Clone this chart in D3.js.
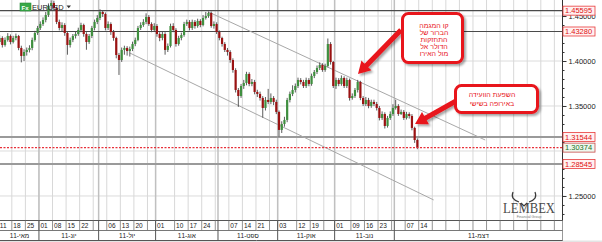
<!DOCTYPE html>
<html>
<head>
<meta charset="utf-8">
<script src="https://cdn.jsdelivr.net/npm/d3@7"></script>
<style>
body { margin: 0; background: #fff; overflow: hidden; }
svg { display: block; font-family: "Liberation Sans", "DejaVu Sans", sans-serif; }
</style>
</head>
<body>
<svg width="602" height="242"></svg>
<script>
// EUR/USD daily candles, 11 May 2011 - 14 Dec 2011
const opens = [
  1.4245,1.4211,1.4256,1.4178,1.4234,1.4278,1.4211,1.4256,1.4278,1.4145,
  1.4056,1.4100,1.4123,1.4145,1.4234,1.4311,1.4367,1.4411,1.4456,1.4511,
  1.4611,1.4645,1.4589,1.4434,1.4367,1.4400,1.4311,1.4178,1.4234,1.4278,
  1.4300,1.4345,1.4400,1.4300,1.4211,1.4278,1.4367,1.4434,1.4478,1.4545,
  1.4522,1.4367,1.4411,1.4322,1.4256,1.4067,1.4011,1.4123,1.4145,1.4111,
  1.4134,1.4189,1.4234,1.4367,1.4400,1.4434,1.4489,1.4411,1.4345,1.4389,
  1.4300,1.4256,1.4300,1.4123,1.4167,1.4389,1.4345,1.4189,1.4256,1.4289,
  1.4411,1.4434,1.4367,1.4434,1.4389,1.4445,1.4400,1.4478,1.4500,1.4534,
  1.4389,1.4411,1.4322,1.4256,1.4189,1.4123,1.4100,1.4011,1.3900,1.3678,
  1.3611,1.3722,1.3756,1.3856,1.3745,1.3767,1.3656,1.3634,1.3589,1.3478,
  1.3567,1.3545,1.3589,1.3545,1.3434,1.3234,1.3300,1.3345,1.3567,1.3634,
  1.3678,1.3722,1.3789,1.3767,1.3722,1.3789,1.3745,1.3834,1.3878,1.3923,
  1.3956,1.3900,1.3945,1.4189,1.3989,1.3722,1.3789,1.3745,1.3811,1.3722,
  1.3789,1.3589,1.3611,1.3678,1.3767,1.3589,1.3522,1.3567,1.3500,1.3545,
  1.3522,1.3478,1.3367,1.3411,1.3278,1.3367,1.3411,1.3478,1.3500,1.3411,
  1.3434,1.3367,1.3411,1.3389,1.3256,1.3122
];
const highs = [
  1.4270,1.4290,1.4275,1.4262,1.4310,1.4295,1.4280,1.4305,1.4290,1.4170,
  1.4130,1.4150,1.4175,1.4260,1.4335,1.4390,1.4440,1.4485,1.4545,1.4640,
  1.4675,1.4670,1.4605,1.4460,1.4430,1.4420,1.4330,1.4260,1.4300,1.4330,
  1.4370,1.4425,1.4415,1.4320,1.4300,1.4390,1.4460,1.4510,1.4575,1.4565,
  1.4540,1.4440,1.4430,1.4345,1.4270,1.4090,1.4150,1.4170,1.4165,1.4160,
  1.4215,1.4260,1.4390,1.4430,1.4465,1.4530,1.4510,1.4430,1.4420,1.4410,
  1.4320,1.4325,1.4320,1.4195,1.4415,1.4420,1.4365,1.4280,1.4315,1.4435,
  1.4460,1.4455,1.4460,1.4455,1.4470,1.4465,1.4510,1.4545,1.4550,1.4550,
  1.4440,1.4430,1.4340,1.4270,1.4210,1.4145,1.4120,1.4030,1.3920,1.3700,
  1.3745,1.3790,1.3880,1.3875,1.3800,1.3790,1.3680,1.3660,1.3610,1.3600,
  1.3690,1.3640,1.3610,1.3570,1.3450,1.3330,1.3380,1.3590,1.3660,1.3730,
  1.3750,1.3815,1.3810,1.3790,1.3815,1.3810,1.3860,1.3900,1.3950,1.3985,
  1.3975,1.3970,1.4250,1.4210,1.4000,1.3815,1.3810,1.3840,1.3830,1.3815,
  1.3805,1.3640,1.3700,1.3790,1.3780,1.3610,1.3600,1.3590,1.3570,1.3570,
  1.3545,1.3500,1.3440,1.3430,1.3390,1.3440,1.3520,1.3570,1.3520,1.3460,
  1.3455,1.3435,1.3430,1.3410,1.3270,1.3140
];
const lows = [
  1.4180,1.4190,1.4150,1.4160,1.4215,1.4185,1.4195,1.4230,1.4120,1.3985,
  1.4000,1.4060,1.4095,1.4120,1.4215,1.4290,1.4345,1.4390,1.4430,1.4490,
  1.4580,1.4560,1.4410,1.4340,1.4330,1.4280,1.4070,1.4150,1.4210,1.4250,
  1.4280,1.4320,1.4270,1.4125,1.4190,1.4255,1.4340,1.4410,1.4455,1.4490,
  1.4340,1.4345,1.4290,1.4225,1.4030,1.3845,1.3990,1.4070,1.4060,1.4050,
  1.4110,1.4165,1.4220,1.4345,1.4380,1.4410,1.4390,1.4320,1.4325,1.4270,
  1.4220,1.4230,1.4070,1.4100,1.4150,1.4320,1.4160,1.4170,1.4230,1.4270,
  1.4390,1.4340,1.4345,1.4360,1.4370,1.4375,1.4385,1.4460,1.4480,1.4370,
  1.4360,1.4300,1.4230,1.4160,1.4100,1.4060,1.3980,1.3870,1.3650,1.3490,
  1.3590,1.3690,1.3730,1.3720,1.3720,1.3630,1.3600,1.3560,1.3370,1.3450,
  1.3520,1.3520,1.3510,1.3410,1.3160,1.3200,1.3270,1.3320,1.3540,1.3610,
  1.3650,1.3700,1.3740,1.3700,1.3700,1.3720,1.3725,1.3810,1.3855,1.3900,
  1.3880,1.3880,1.3930,1.3960,1.3700,1.3690,1.3720,1.3725,1.3700,1.3700,
  1.3560,1.3570,1.3590,1.3650,1.3565,1.3500,1.3500,1.3475,1.3480,1.3500,
  1.3450,1.3340,1.3345,1.3250,1.3260,1.3345,1.3390,1.3460,1.3390,1.3400,
  1.3345,1.3350,1.3360,1.3230,1.3090,1.3020
];
const closes = [
  1.4211,1.4256,1.4178,1.4234,1.4278,1.4211,1.4256,1.4278,1.4145,1.4056,
  1.4100,1.4123,1.4145,1.4234,1.4311,1.4367,1.4411,1.4456,1.4511,1.4611,
  1.4645,1.4589,1.4434,1.4367,1.4400,1.4311,1.4178,1.4234,1.4278,1.4300,
  1.4345,1.4400,1.4300,1.4211,1.4278,1.4367,1.4434,1.4478,1.4545,1.4522,
  1.4367,1.4411,1.4322,1.4256,1.4067,1.4011,1.4123,1.4145,1.4111,1.4134,
  1.4189,1.4234,1.4367,1.4400,1.4434,1.4489,1.4411,1.4345,1.4389,1.4300,
  1.4256,1.4300,1.4123,1.4167,1.4389,1.4345,1.4189,1.4256,1.4289,1.4411,
  1.4434,1.4367,1.4434,1.4389,1.4445,1.4400,1.4478,1.4500,1.4534,1.4389,
  1.4411,1.4322,1.4256,1.4189,1.4123,1.4100,1.4011,1.3900,1.3678,1.3611,
  1.3722,1.3756,1.3856,1.3745,1.3767,1.3656,1.3634,1.3589,1.3478,1.3567,
  1.3545,1.3589,1.3545,1.3434,1.3234,1.3300,1.3345,1.3567,1.3634,1.3678,
  1.3722,1.3789,1.3767,1.3722,1.3789,1.3745,1.3834,1.3878,1.3923,1.3956,
  1.3900,1.3945,1.4189,1.3989,1.3722,1.3789,1.3745,1.3811,1.3722,1.3789,
  1.3589,1.3611,1.3678,1.3767,1.3589,1.3522,1.3567,1.3500,1.3545,1.3522,
  1.3478,1.3367,1.3411,1.3278,1.3367,1.3411,1.3478,1.3500,1.3411,1.3434,
  1.3367,1.3411,1.3389,1.3256,1.3122,1.3037
];

const firstDay = "2011-05-11", lastDay = "2011-12-14", axisEnd = "2012-02-28";

// support / resistance levels and current quote
const levels = [1.45595, 1.43280, 1.31544, 1.28545];
const lastQuote = 1.30374;
const priceTicks = [1.25, 1.30, 1.35, 1.40, 1.45];

// trend channel (date, price)
const trendUpper = [["2011-08-29", 1.4545], ["2012-01-18", 1.3122]];
const trendLower = [["2011-07-19", 1.4089], ["2011-12-22", 1.2456]];

// bottom axis: weekly cells and month cells
const weekCells = ["2011-05-11","2011-05-18","2011-05-25","2011-06-01","2011-06-08","2011-06-15","2011-06-22",
  "2011-06-29","2011-07-06","2011-07-13","2011-07-20","2011-07-27","2011-08-01","2011-08-10","2011-08-17",
  "2011-08-24","2011-08-31","2011-09-07","2011-09-14","2011-09-21","2011-09-28","2011-10-03","2011-10-12",
  "2011-10-19","2011-10-26","2011-11-01","2011-11-09","2011-11-16","2011-11-23","2011-11-30","2011-12-07",
  "2011-12-14","2011-12-21","2011-12-28","2012-01-04","2012-01-11","2012-01-18","2012-01-25","2012-02-01",
  "2012-02-08","2012-02-15","2012-02-22"];
const unlabeledCells = ["2011-06-29","2011-07-27","2011-08-31","2011-09-28","2011-10-26","2011-11-30"];
const monthStarts = ["2011-05-11","2011-06-01","2011-07-01","2011-08-01","2011-09-01","2011-10-03","2011-11-01","2011-12-01"];
const monthLabels = ["11-מאי","11-יונ","11-יול","11-אוג","11-ספט","11-אוק","11-נוב","11-דצמ"];

const note1 = ["קו המגמה", "הברור של", "התחזקות", "הדולר אל", "מול האירו"];
const note2 = ["השפעת הוועידה", "באירופה בשישי"];

// ---------- layout ----------
const W = 602, H = 242;
const plotRight = 562.5, plotBottom = 220;
const fmt = d3.utcFormat("%Y-%m-%d"), parse = d3.utcParse("%Y-%m-%d");
const weekday = d => d.getUTCDay() % 6 !== 0;

const slots = d3.utcDays(parse(firstDay), parse(axisEnd)).filter(weekday).map(fmt);
const tradingDays = d3.utcDays(parse(firstDay), d3.utcDay.offset(parse(lastDay), 1)).filter(weekday).map(fmt);

const x = d3.scaleBand().domain(slots).range([-4.45, plotRight]);
const step = x.step();
const cx = d => x(d) + step / 2;
const edge = d => x(d) + step;
const y = d3.scaleLinear().domain([1.2233, 1.4678]).range([plotBottom, 0]);

const candles = tradingDays.map((d, i) => ({ date: d, o: opens[i], h: highs[i], l: lows[i], c: closes[i] }));

const svg = d3.select("svg");
const defs = svg.append("defs");
defs.append("clipPath").attr("id", "plotClip")
  .append("rect").attr("x", 0).attr("y", 0).attr("width", plotRight).attr("height", plotBottom);
defs.append("filter").attr("id", "shadow").attr("x", "-30%").attr("y", "-30%").attr("width", "160%").attr("height", "160%")
  .append("feDropShadow").attr("dx", 2).attr("dy", 2).attr("stdDeviation", 1.3)
  .attr("flood-color", "#000").attr("flood-opacity", 0.35);

svg.append("rect").attr("width", W).attr("height", H).attr("fill", "#fff");

const plot = svg.append("g").attr("clip-path", "url(#plotClip)");

// grid
plot.selectAll(".hgrid").data(priceTicks).enter().append("line")
  .attr("x1", 0).attr("x2", plotRight)
  .attr("y1", d => y(d)).attr("y2", d => y(d))
  .attr("stroke", "#dcdcdc").attr("stroke-width", 1);

plot.selectAll(".vgrid").data(weekCells).enter().append("line")
  .attr("x1", d => edge(d)).attr("x2", d => edge(d))
  .attr("y1", 0).attr("y2", plotBottom)
  .attr("stroke", "#d8d8d8").attr("stroke-width", 1);

plot.selectAll(".mgrid").data(monthStarts.slice(1)).enter().append("line")
  .attr("x1", d => edge(d)).attr("x2", d => edge(d))
  .attr("y1", 0).attr("y2", plotBottom)
  .attr("stroke", "#c0c0c0").attr("stroke-width", 1.5);

// symbol legend
const legend = svg.append("g");
legend.append("rect").attr("x", 20).attr("y", 3).attr("width", 11).attr("height", 8)
  .attr("fill", "#38a848").attr("stroke", "#2a8a38").attr("stroke-width", 0.6);
legend.append("text").attr("x", 21.6).attr("y", 9.6).attr("font-size", 6).attr("font-weight", "bold")
  .attr("fill", "#fff").text("Fx");
legend.append("text").attr("x", 32).attr("y", 10).attr("font-size", 7.5).attr("fill", "#222").text("EURUSD");
legend.append("path").attr("d", "M66.5,5.5L71,5.5L68.75,8.2Z").attr("fill", "#333");

// support / resistance lines
plot.selectAll(".level").data(levels).enter().append("line")
  .attr("x1", 0).attr("x2", plotRight)
  .attr("y1", d => y(d)).attr("y2", d => y(d))
  .attr("stroke", (d, i) => i < 2 ? "#4a4a4a" : "#9a9a9a")
  .attr("stroke-width", (d, i) => i < 2 ? 1.2 : 2);

// trend channel
const trendLine = d3.line().x(d => cx(d[0])).y(d => y(d[1]));
plot.selectAll(".trend").data([trendUpper, trendLower]).enter().append("path")
  .attr("d", trendLine).attr("fill", "none").attr("stroke", "#a8a8a8").attr("stroke-width", 1);

// candles
const bodyW = 2.2;
const cg = plot.selectAll(".candle").data(candles).enter().append("g");
cg.append("line")
  .attr("x1", d => cx(d.date)).attr("x2", d => cx(d.date))
  .attr("y1", d => y(d.h)).attr("y2", d => y(d.l))
  .attr("stroke", "#4a4a4a").attr("stroke-width", 0.9);
cg.append("rect")
  .attr("x", d => cx(d.date) - bodyW / 2).attr("width", bodyW)
  .attr("y", d => y(Math.max(d.o, d.c)))
  .attr("height", d => Math.max(1, Math.abs(y(d.o) - y(d.c))))
  .attr("fill", d => d.c >= d.o ? "#3f8f3f" : "#9a1212");

// current quote line
plot.append("line").attr("x1", 0).attr("x2", plotRight)
  .attr("y1", y(lastQuote)).attr("y2", y(lastQuote))
  .attr("stroke", "#e8303a").attr("stroke-width", 1.2).attr("stroke-dasharray", "2,1.5");

// right price axis (the 1.30000 label sits under the quote box, so it is not printed)
const minorTicks = d3.range(1.23, 1.465, 0.01);
const labelled = priceTicks.filter(v => Math.abs(y(v) - y(lastQuote)) > 5);
svg.append("g").attr("transform", `translate(${plotRight},0)`)
  .call(d3.axisRight(y).tickValues(minorTicks).tickSize(2).tickFormat(""))
  .call(g => g.select(".domain").remove())
  .call(g => g.selectAll("line").attr("stroke", "#333"));
svg.append("g").attr("transform", `translate(${plotRight},0)`)
  .call(d3.axisRight(y).tickValues(priceTicks).tickSize(4).tickPadding(2)
    .tickFormat(v => labelled.includes(v) ? d3.format(".5f")(v) : ""))
  .call(g => g.select(".domain").remove())
  .call(g => g.selectAll("line").attr("stroke", "#333"))
  .call(g => g.selectAll("text").attr("font-size", 7.5).attr("fill", "#222")
    .attr("font-family", "Liberation Sans, sans-serif"));

svg.append("line").attr("x1", plotRight).attr("x2", plotRight).attr("y1", 0).attr("y2", H)
  .attr("stroke", "#333").attr("stroke-width", 1);

// price boxes
const boxes = levels.map(v => ({ v, quote: false })).concat([{ v: lastQuote, quote: true }]);
const bg = svg.selectAll(".pbox").data(boxes).enter().append("g")
  .attr("transform", d => `translate(${plotRight + 0.5},${y(d.v)})`);
bg.append("rect").attr("x", 0).attr("y", -4.5).attr("width", 32).attr("height", 9)
  .attr("fill", d => d.quote ? "#eef8ee" : "#fff1f1")
  .attr("stroke", d => d.quote ? "#c84a4a" : "#e83a3a").attr("stroke-width", 0.8);
bg.append("text").attr("x", 2).attr("y", 2.8).attr("font-size", 7.5)
  .attr("fill", d => d.quote ? "#1f6f1f" : "#e01010")
  .text(d => d3.format(".5f")(d.v));

// bottom date axis
const axTop = 220.5, axMid = 230.5, axBot = 240.5;
const ax = svg.append("g");
ax.append("rect").attr("x", 0).attr("y", axTop).attr("width", plotRight).attr("height", axBot - axTop).attr("fill", "#fff");
ax.append("rect").attr("x", 0).attr("y", axBot).attr("width", W).attr("height", H - axBot).attr("fill", "#e4e4e4");
[axTop, axMid, axBot].forEach(v => {
  ax.append("line").attr("x1", 0).attr("x2", plotRight).attr("y1", v).attr("y2", v)
    .attr("stroke", "#555").attr("stroke-width", v === axMid ? 0.8 : 1);
});
ax.selectAll(".wsep").data(weekCells).enter().append("line")
  .attr("x1", d => edge(d)).attr("x2", d => edge(d))
  .attr("y1", axTop).attr("y2", axMid)
  .attr("stroke", "#777").attr("stroke-width", 0.8);
ax.selectAll(".wlab").data(weekCells.filter(d => d <= lastDay && !unlabeledCells.includes(d)))
  .enter().append("text")
  .attr("x", d => edge(d) + 1.5).attr("y", axMid - 2.4)
  .attr("font-size", 6.5).attr("fill", "#222")
  .text(d => d.slice(8));
ax.selectAll(".msep").data(monthStarts.slice(1)).enter().append("line")
  .attr("x1", d => edge(d)).attr("x2", d => edge(d))
  .attr("y1", axTop).attr("y2", axBot)
  .attr("stroke", "#555").attr("stroke-width", 1);
ax.selectAll(".mlab").data(monthStarts).enter().append("text")
  .attr("x", (d, i) => {
    const a = i === 0 ? 0 : edge(d);
    const b = i + 1 < monthStarts.length ? edge(monthStarts[i + 1]) : plotRight;
    return (a + b) / 2;
  })
  .attr("y", axBot - 2.6).attr("text-anchor", "middle")
  .attr("font-size", 6.5).attr("fill", "#222")
  .text((d, i) => monthLabels[i]);

// callouts
function arrowPath(x1, y1, x2, y2, sw, hl, hw) {
  const dx = x2 - x1, dy = y2 - y1, len = Math.hypot(dx, dy);
  const ux = dx / len, uy = dy / len, px = -uy, py = ux;
  const bx = x2 - ux * hl, by = y2 - uy * hl;
  const pts = [
    [x1 + px * sw / 2, y1 + py * sw / 2], [bx + px * sw / 2, by + py * sw / 2],
    [bx + px * hw / 2, by + py * hw / 2], [x2, y2],
    [bx - px * hw / 2, by - py * hw / 2], [bx - px * sw / 2, by - py * sw / 2],
    [x1 - px * sw / 2, y1 - py * sw / 2]
  ];
  return "M" + pts.map(p => p.map(v => v.toFixed(1)).join(",")).join("L") + "Z";
}
const red = "#e8141b";
const notes = svg.append("g");
notes.append("path").attr("d", arrowPath(401, 30, 358, 74, 5, 12, 14)).attr("fill", red).attr("filter", "url(#shadow)");
notes.append("path").attr("d", arrowPath(456, 101, 415, 124, 5, 12, 14)).attr("fill", red).attr("filter", "url(#shadow)");

notes.append("rect").attr("x", 402.5).attr("y", 13.5).attr("width", 60).attr("height", 49).attr("rx", 6)
  .attr("fill", "#fff").attr("stroke", red).attr("stroke-width", 3).attr("filter", "url(#shadow)");
notes.selectAll(".n1").data(note1).enter().append("text")
  .attr("x", 434).attr("y", (d, i) => 28 + i * 7).attr("text-anchor", "middle")
  .attr("font-size", 7).attr("fill", red).text(d => d);

notes.append("rect").attr("x", 455.5).attr("y", 85.5).attr("width", 82).attr("height", 27).attr("rx", 6)
  .attr("fill", "#fff").attr("stroke", red).attr("stroke-width", 3).attr("filter", "url(#shadow)");
notes.selectAll(".n2").data(note2).enter().append("text")
  .attr("x", 492).attr("y", (d, i) => 97 + i * 9).attr("text-anchor", "middle")
  .attr("font-size", 7).attr("fill", red).text(d => d);

// logo
const logo = svg.append("g");
logo.append("text").attr("x", 503).attr("y", 213).attr("font-family", "Liberation Serif, serif")
  .attr("font-size", 14).attr("fill", "#4a4a4a").attr("textLength", 52).attr("lengthAdjust", "spacingAndGlyphs")
  .text("LEMBEX");
logo.append("path")
  .attr("d", "M519,202 C513,200 511,197 513,192 M529,202 C535,200 537,197 535,192 M521,203 L524,206 L527,203")
  .attr("fill", "none").attr("stroke", "#3a3a3a").attr("stroke-width", 1.2);
logo.append("text").attr("x", 529).attr("y", 217.5).attr("text-anchor", "middle")
  .attr("font-size", 3.5).attr("fill", "#777").text("Financial Group");
</script>
</body>
</html>
